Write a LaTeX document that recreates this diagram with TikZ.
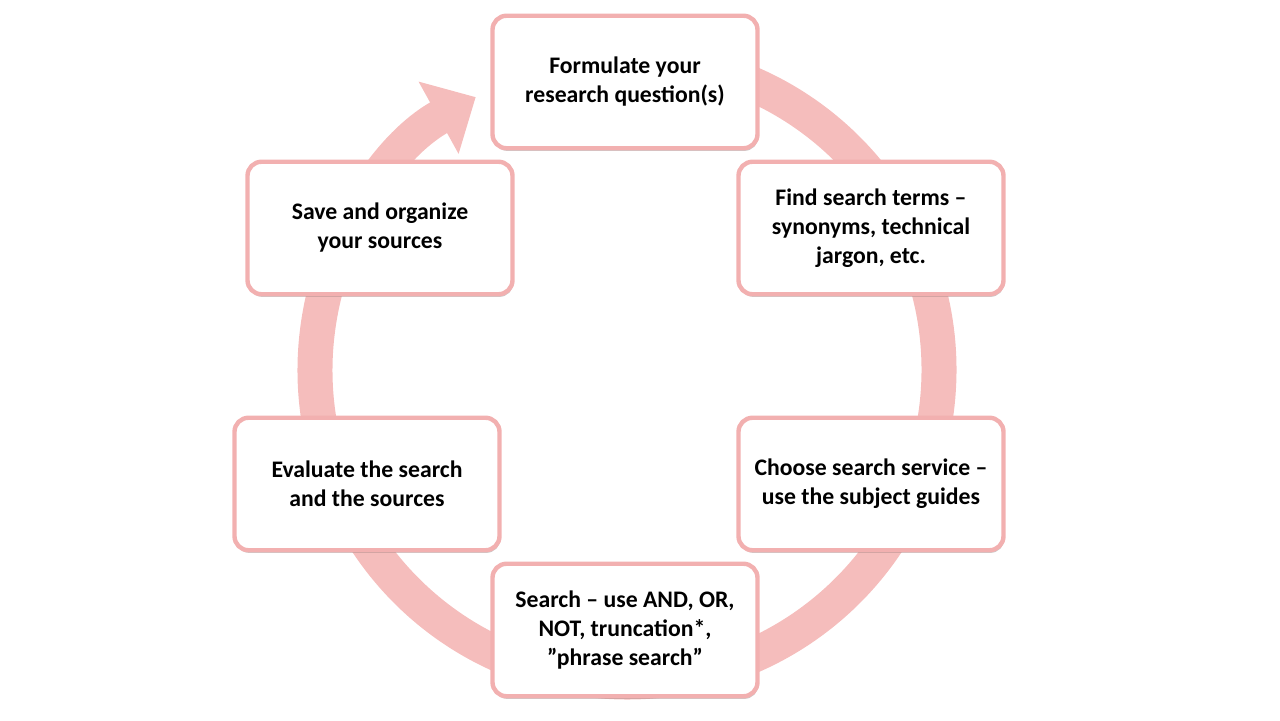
\documentclass[tikz,border=0pt]{standalone}
\usepackage{fontspec}
\setmainfont{Carlito}
\usetikzlibrary{arrows.meta, shadows}
\definecolor{ringpink}{HTML}{F5BDBC}
\definecolor{boxpink}{HTML}{F2B0B0}

\begin{document}
\begin{tikzpicture}[
    stage/.style={draw=boxpink, line width=2.5pt, fill=white, rounded corners=8pt,
      minimum width=5.3cm, minimum height=2.65cm, align=center,
      font=\fontsize{13.5}{16.5}\selectfont\bfseries,
      drop shadow={shadow xshift=0.5pt, shadow yshift=-1.5pt, opacity=0.35, fill=black!60}},
    ring/.style={draw=ringpink, line width=0.7cm}]

    \useasboundingbox (0,0) rectangle (25.6,14.4);
    \coordinate (center) at (12.54,7.0);

    %%% Cycle ring with arrow
    \draw[ring, -{Triangle[length=0.85cm, width=1.6cm]}] ([shift={(85:6.24)}]center) arc[start angle=85, end angle=-241, radius=6.24];

    %%% Steps
    \node[stage] (formulate) at (12.5,12.76) {Formulate your\\research question(s)};
    \node[stage] (terms) at (17.42,9.84) {Find search terms --\\synonyms, technical\\jargon, etc.};
    \node[stage] (service) at (17.42,4.72) {Choose search service --\\use the subject guides};
    \node[stage] (search) at (12.5,1.8) {Search -- use AND, OR,\\NOT, truncation*,\\”phrase search”};
    \node[stage] (evaluate) at (7.34,4.72) {Evaluate the search\\and the sources};
    \node[stage] (save) at (7.6,9.84) {Save and organize\\your sources};

\end{tikzpicture}
\end{document}
